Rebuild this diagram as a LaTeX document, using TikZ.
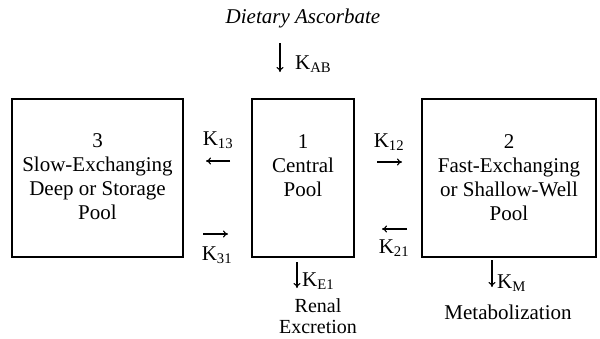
\documentclass[tikz,border=0pt]{standalone}
\usepackage{fontspec}
\setmainfont{Liberation Serif}
\usetikzlibrary{positioning,arrows.meta}
\begin{document}
\begin{tikzpicture}[x=1pt,y=-1pt,
  pool/.style={draw, line width=1.1pt, minimum height=158pt, inner sep=0pt},
  pooltext/.style={anchor=north, align=center, inner sep=0pt, font=\fontsize{21}{24}\selectfont},
  klabel/.style={inner sep=0pt, font=\fontsize{21}{24}\selectfont},
  rate/.style={-{To[length=5pt,width=7pt]}, line width=1.1pt}]
\useasboundingbox (0,0) rectangle (600,338);

 % pools
 \foreach \x/\w/\n in {97.5/171/s3, 303/102/c1, 509/174/f2}
   \node[pool, minimum width=\w pt] (\n) at (\x,178) {};

 \node[pooltext] (s3t) at ([yshift=-35pt]s3.north) {3\\Slow-Exchanging\\Deep or Storage\\Pool};
 \node[pooltext] (c1t) at ([yshift=-36pt]c1.north) {1\\Central\\Pool};
 \node[pooltext] (f2t) at ([yshift=-36pt]f2.north) {2\\Fast-Exchanging\\or Shallow-Well\\Pool};

 % input
 \node[klabel, font=\fontsize{21}{24}\selectfont\itshape] (diet) at (303,18) {Dietary Ascorbate};
 \coordinate (ab1) at (280,43);
 \coordinate (ab2) at (280,72);
 \draw[rate] (ab1) -- (ab2);
 \node[klabel, anchor=west] (kab) at (295,64) {K\textsubscript{AB}};

 % exchange between pools
 \coordinate (a13) at (230,161);  \coordinate (b13) at (206,161);
 \coordinate (a31) at (203,234);  \coordinate (b31) at (228,234);
 \coordinate (a12) at (377,162);  \coordinate (b12) at (402,162);
 \coordinate (a21) at (407,229);  \coordinate (b21) at (382,229);
 \foreach \r in {13,31,12,21}
   \draw[rate] (a\r) -- (b\r);
 \node[klabel] (k13) at (218,140) {K\textsubscript{13}};
 \node[klabel] (k31) at (217,255) {K\textsubscript{31}};
 \node[klabel] (k12) at (389,142) {K\textsubscript{12}};
 \node[klabel] (k21) at (394,248) {K\textsubscript{21}};

 % outputs
 \coordinate (e1) at (297,262);  \coordinate (e2) at (297,288);
 \draw[rate] (e1) -- (e2);
 \node[klabel, anchor=west] (ke1) at (302,281) {K\textsubscript{E1}};
 \node[klabel, align=center, font=\fontsize{20}{21}\selectfont] (renal) at (318,316) {Renal\\Excretion};

 \coordinate (m1) at (492,260);  \coordinate (m2) at (492,287);
 \draw[rate] (m1) -- (m2);
 \node[klabel, anchor=west] (km) at (497,283) {K\textsubscript{M}};
 \node[klabel] (metab) at (508,312) {Metabolization};

\end{tikzpicture}
\end{document}
